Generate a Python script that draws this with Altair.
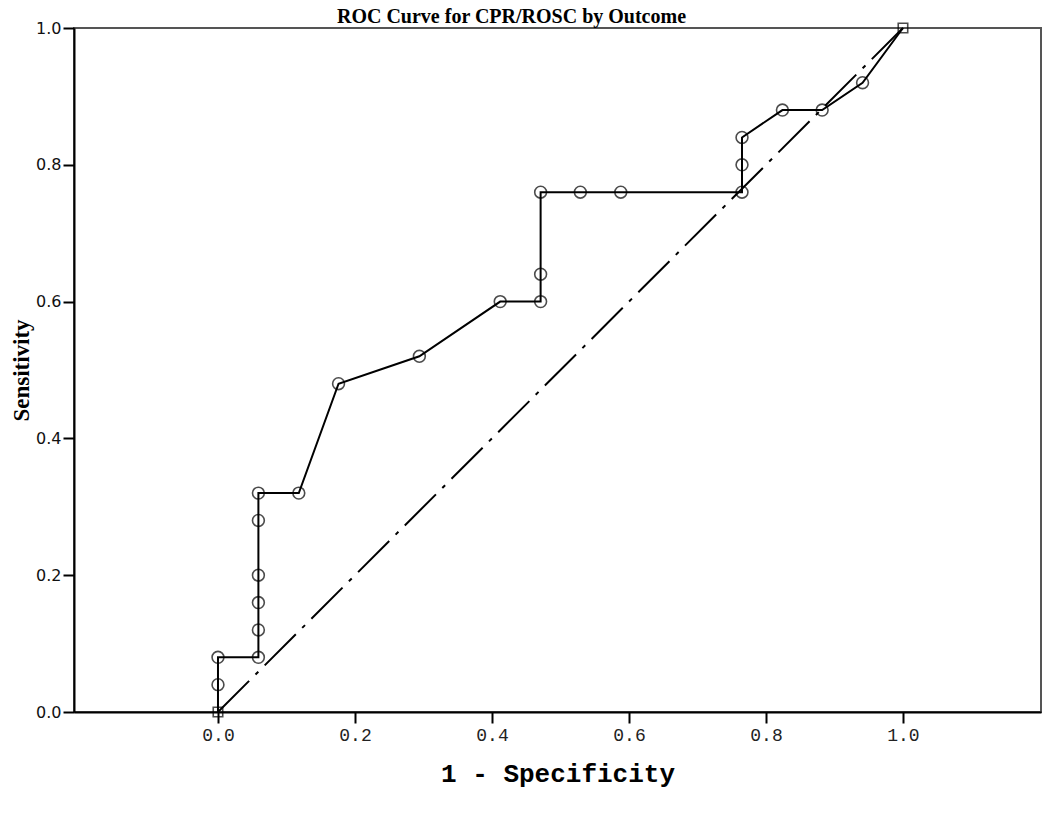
import altair as alt
import pandas as pd

# ROC points (1 - specificity, sensitivity)
fpr = [0.0, 0.0, 0.0, 0.059, 0.059, 0.059, 0.059, 0.059, 0.059, 0.118, 0.176,
       0.294, 0.412, 0.471, 0.471, 0.471, 0.529, 0.588, 0.765, 0.765, 0.765,
       0.824, 0.882, 0.941, 1.0]
tpr = [0.0, 0.04, 0.08, 0.08, 0.12, 0.16, 0.20, 0.28, 0.32, 0.32, 0.48,
       0.52, 0.60, 0.60, 0.64, 0.76, 0.76, 0.76, 0.76, 0.80, 0.84,
       0.88, 0.88, 0.92, 1.0]
marker = ["square"] + ["circle"] * (len(fpr) - 2) + ["square"]

ref_x = [0.0, 1.0]
ref_y = [0.0, 1.0]

tick_vals = [0.0, 0.2, 0.4, 0.6, 0.8, 1.0]

df = pd.DataFrame({"fpr": fpr, "tpr": tpr, "marker": marker, "idx": list(range(len(fpr)))})
ref = pd.DataFrame({"fpr": ref_x, "tpr": ref_y})

xscale = alt.Scale(domain=[-0.2102, 1.2015], nice=False, zero=False)
yscale = alt.Scale(domain=[0, 1], nice=False)

xaxis = alt.Axis(values=tick_vals, format=".1f", tickSize=11, tickWidth=2, tickColor="black",
                 labelFont="Liberation Mono", labelFontSize=18, labelColor="#222", labelPadding=3,
                 title="1 - Specificity", titleFont="Liberation Mono", titleFontSize=26,
                 titleFontWeight="bold", titleColor="black", titlePadding=16,
                 grid=False, domainColor="black", domainWidth=2)
yaxis = alt.Axis(values=tick_vals, format=".1f", tickSize=11, tickWidth=2, tickColor="black",
                 labelFont="DejaVu Sans", labelFontSize=16, labelColor="#111", labelPadding=2,
                 title="Sensitivity", titleFont="Liberation Serif", titleFontSize=23,
                 titleFontWeight="bold", titleColor="black", titlePadding=2,
                 grid=False, domainColor="black", domainWidth=2)

diag = alt.Chart(ref).mark_line(color="black", strokeWidth=2, strokeDash=[44, 9, 4, 9]).encode(
    x=alt.X("fpr:Q", scale=xscale, axis=xaxis),
    y=alt.Y("tpr:Q", scale=yscale, axis=yaxis),
)

curve = alt.Chart(df).mark_line(color="black", strokeWidth=2).encode(
    x=alt.X("fpr:Q", scale=xscale),
    y=alt.Y("tpr:Q", scale=yscale),
    order="idx:Q",
)

pts = alt.Chart(df).mark_point(filled=False, color="black", strokeWidth=1.6).encode(
    x=alt.X("fpr:Q", scale=xscale),
    y=alt.Y("tpr:Q", scale=yscale),
    shape=alt.Shape("marker:N", scale=alt.Scale(domain=["circle", "square"], range=["circle", "square"]), legend=None),
    size=alt.Size("marker:N", scale=alt.Scale(domain=["circle", "square"], range=[140, 90]), legend=None),
)

chart = alt.layer(diag, curve, pts).properties(
    width=967,
    height=684,
    title=alt.TitleParams("ROC Curve for CPR/ROSC by Outcome", font="Liberation Serif",
                          fontSize=20, fontWeight="bold", color="black", dx=-46,
                          offset=0, baseline="bottom", dy=27),
    autosize=alt.AutoSizeParams(type="none"),
    padding={"left": 66, "top": 20, "right": 1, "bottom": 80},
).configure(background="white").configure_view(stroke="#555", strokeWidth=2)

chart.save("out.html", embed_options={"renderer": "svg", "actions": False})
